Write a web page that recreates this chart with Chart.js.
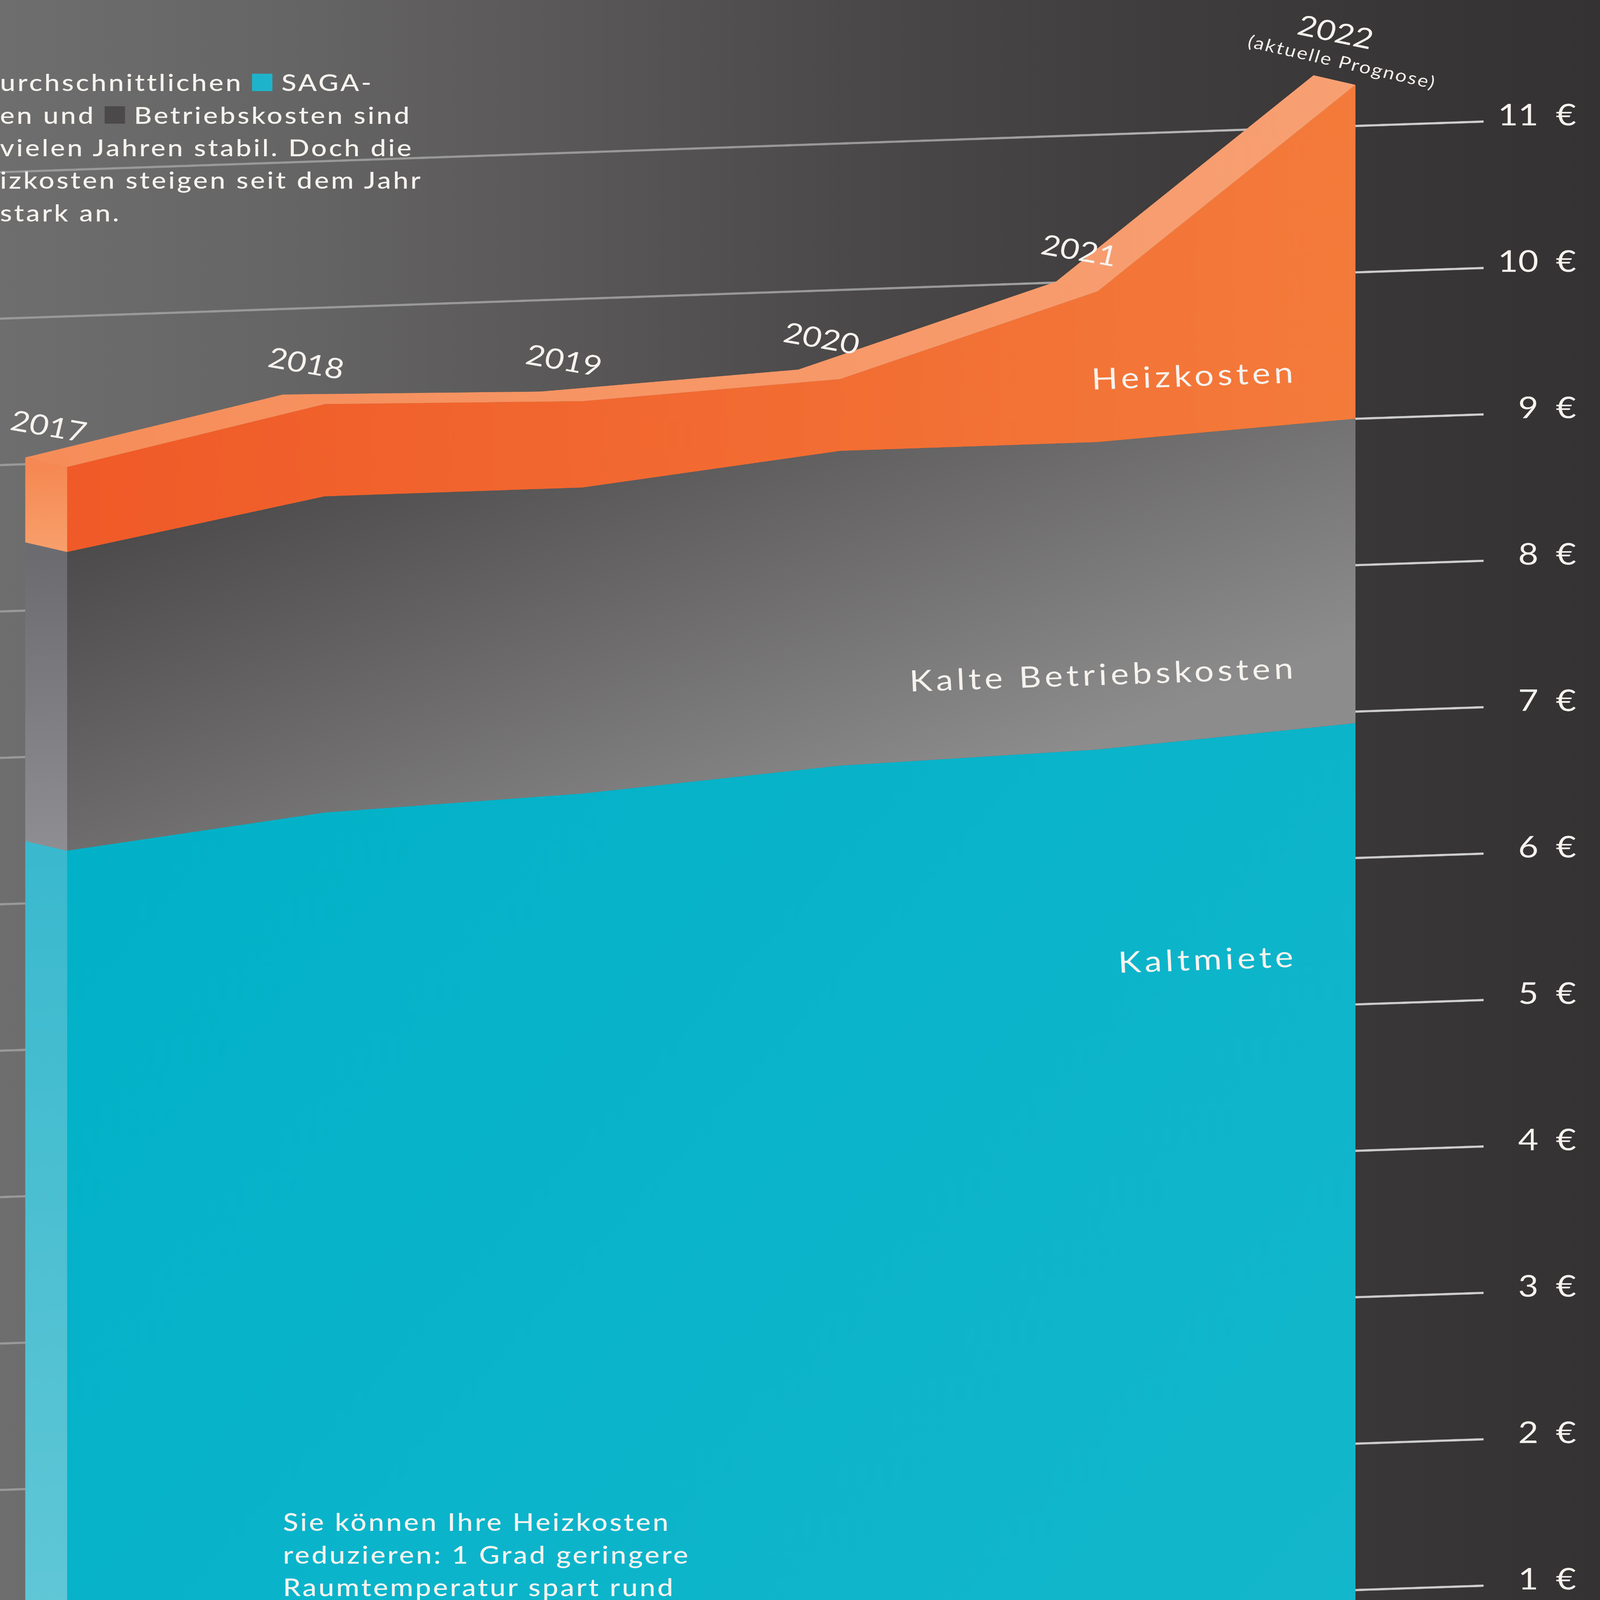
<!DOCTYPE html>
<html lang="de">
<head>
<meta charset="utf-8">
<title>SAGA: Kaltmiete, kalte Betriebskosten und Heizkosten 2017–2022</title>
<script src="https://cdn.jsdelivr.net/npm/chart.js@4.4.1/dist/chart.umd.min.js"></script>
<style>
  html, body { margin: 0; padding: 0; overflow: hidden; background: #343232; }
  #page {
    position: absolute; left: 0; top: 0;
    width: 5580px; height: 6535px; overflow: hidden;
    transform-origin: 0 0;
    background: linear-gradient(90deg, #6f6e6e 0px, #666565 1000px, #595757 2000px,
                #4a4848 3000px, #3f3d3d 4000px, #373535 5000px, #343232 5580px);
    font-family: Lato, "Open Sans", sans-serif;
    color: #f6f3ef;
  }
  #chart { position: absolute; left: 0; top: 0; }
  .text { position: absolute; white-space: nowrap; font-weight: 500; }
  .intro { left: 0; top: 268px; font-size: 96px; line-height: 133px; letter-spacing: 0.075em; }
  .tip { left: 987px; top: 6149px; font-size: 98px; line-height: 133px; letter-spacing: 0.07em; }
  .key { display: inline-block; width: 71px; height: 71px; vertical-align: baseline; }
  .key.teal { background: #1db4cb; }
  .key.grey { background: #4b494a; }
</style>
</head>
<body>
<div id="page">
<canvas id="chart" width="5580" height="6535"></canvas>

<div class="text intro">urchschnittlichen <span class="key teal"></span> SAGA-<br>en und <span class="key grey"></span> Betriebskosten sind<br>vielen Jahren stabil. Doch die<br>izkosten steigen seit dem Jahr<br>stark an.</div>

<div class="text tip">Sie können Ihre Heizkosten<br>reduzieren: 1 Grad geringere<br>Raumtemperatur spart rund</div>
</div>

<script>
// values in euro per square metre
const years = [2017, 2018, 2019, 2020, 2021, 2022];
const yearLabels = ['2017', '2018', '2019', '2020', '2021', '2022'];
const forecastNote = '(aktuelle Prognose)';
const kaltmiete = [6.35, 6.55, 6.62, 6.75, 6.80, 6.92];
const betriebskosten = [2.04, 2.16, 2.09, 2.15, 2.10, 2.08];
const heizkosten = [0.58, 0.63, 0.59, 0.49, 1.03, 2.28];
const seriesNames = ['Kaltmiete', 'Kalte Betriebskosten', 'Heizkosten'];
const euroTicks = [1, 2, 3, 4, 5, 6, 7, 8, 9, 10, 11];
const euroTickLabels = ['1\u2002€', '2\u2002€', '3\u2002€', '4\u2002€', '5\u2002€', '6\u2002€',
                        '7\u2002€', '8\u2002€', '9\u2002€', '10\u2002€', '11\u2002€'];

// where the series names sit, in data units (right end of the baseline)
const seriesLabelAnchors = [
  { x: 2021.76, y: 5.27 },
  { x: 2021.76, y: 7.24 },
  { x: 2021.76, y: 9.26 }
];

const PAGE_W = 5580;
const PAGE_H = 6535;

// scale ranges so the plot lines up with the page
const X_MIN = 2016.7396;
const X_MAX = 2022.4974;
const Y_MIN = 0.863;
const Y_MAX = 11.791;

// the grid recedes: everything is skewed around a pivot right of the axis
const K = 0.04;
const PIVOT_X = 5750;
const DEPTH = { x: -146, y: -45 };

const TEXT_COLOR = '#f6f3ef';
const SIDE_COLORS = [
  ['#3ab9ce', '#62c8d7'],
  ['#6c6c70', '#8f8f93'],
  ['#f68953', '#f8a06c']
];
const TOP_FACE_COLORS = ['#f68d59', '#f8a073'];

// the browser window may be smaller than the page; fit the page into it
function fitPage() {
  const sx = window.innerWidth / PAGE_W;
  const sy = window.innerHeight / PAGE_H;
  document.getElementById('page').style.transform = `scale(${sx}, ${sy})`;
}
fitPage();
window.addEventListener('resize', fitPage);

const cache = {};

function gridColor(chart) {
  if (!chart.chartArea) return 'rgba(225,225,225,0.6)';
  if (!cache.grid) {
    const g = chart.ctx.createLinearGradient(0, 0, chart.chartArea.right, 0);
    g.addColorStop(0, 'rgba(225,225,225,0.38)');
    g.addColorStop(0.65, 'rgba(225,225,225,0.55)');
    g.addColorStop(0.92, 'rgba(225,225,225,0.88)');
    g.addColorStop(1, 'rgba(225,225,225,0.9)');
    cache.grid = g;
  }
  return cache.grid;
}

function faceFill(chart, name) {
  const fallback = { teal: '#00b2c8', grey: '#666464', orange: '#f26a32' }[name];
  if (!chart.chartArea) return fallback;
  if (!cache[name]) {
    const c = chart.ctx;
    let g;
    if (name === 'teal') {
      g = c.createLinearGradient(0, 2800, 4727, 6535);
      g.addColorStop(0, '#00b1c8');
      g.addColorStop(1, '#14b7cc');
    } else if (name === 'grey') {
      g = c.createLinearGradient(248, 1925, 1100, 4033);
      g.addColorStop(0, '#4a4848');
      g.addColorStop(1, '#8d8c8c');
    } else {
      g = c.createLinearGradient(234, 0, 4727, 0);
      g.addColorStop(0, '#f05a28');
      g.addColorStop(1, '#f47b3b');
    }
    cache[name] = g;
  }
  return cache[name];
}

function toPage(x, y) {
  return { x: x, y: y + K * (PIVOT_X - x) };
}

function drawSolid(chart) {
  const c = chart.ctx;
  const metas = [0, 1, 2].map(i => chart.getDatasetMeta(i));
  const x0 = metas[0].data[0].x;
  const tops = metas.map(m => m.data[0].y);
  const bottoms = [chart.chartArea.bottom + 400, tops[0], tops[1]];

  // left side of the block
  SIDE_COLORS.forEach(([from, to], i) => {
    const g = c.createLinearGradient(0, tops[i], 0, Math.min(bottoms[i], chart.chartArea.bottom));
    g.addColorStop(0, from);
    g.addColorStop(1, to);
    c.fillStyle = g;
    c.beginPath();
    c.moveTo(x0, tops[i]);
    c.lineTo(x0 + DEPTH.x, tops[i] + DEPTH.y);
    c.lineTo(x0 + DEPTH.x, bottoms[i] + DEPTH.y);
    c.lineTo(x0, bottoms[i]);
    c.closePath();
    c.fill();
  });

  // top face along the Heizkosten line
  const pts = metas[2].data;
  const g = c.createLinearGradient(x0 + DEPTH.x, 0, pts[pts.length - 1].x, 0);
  g.addColorStop(0, TOP_FACE_COLORS[0]);
  g.addColorStop(1, TOP_FACE_COLORS[1]);
  c.fillStyle = g;
  c.beginPath();
  pts.forEach((p, i) => (i ? c.lineTo(p.x, p.y) : c.moveTo(p.x, p.y)));
  for (let i = pts.length - 1; i >= 0; i--) c.lineTo(pts[i].x + DEPTH.x, pts[i].y + DEPTH.y);
  c.closePath();
  c.fill();
}

function drawLabels(chart) {
  const c = chart.ctx;
  const pts = chart.getDatasetMeta(2).data;
  c.save();
  c.fillStyle = TEXT_COLOR;
  c.textAlign = 'center';
  c.textBaseline = 'middle';

  yearLabels.forEach((txt, i) => {
    const p = toPage(pts[i].x, pts[i].y);
    const last = i === yearLabels.length - 1;
    c.save();
    c.translate(p.x + (last ? -70 : -65), p.y + (last ? -212 : -163));
    c.rotate(last ? 0.24 : 0.2);
    c.font = '400 115px Lato';
    c.fillText(txt, 0, 0);
    c.restore();
    if (last) {
      c.save();
      c.translate(p.x - 47, p.y - 91);
      c.rotate(0.26);
      c.font = '400 70px Lato';
      c.letterSpacing = '5px';
      c.fillText(forecastNote, 0, 0);
      c.restore();
    }
  });

  const xs = chart.scales.x;
  const ys = chart.scales.y;
  c.textAlign = 'right';
  c.textBaseline = 'alphabetic';
  c.font = '400 120px Lato';
  c.letterSpacing = '13px';
  seriesLabelAnchors.forEach((a, i) => {
    const p = toPage(xs.getPixelForValue(a.x), ys.getPixelForValue(a.y));
    c.save();
    c.translate(p.x, p.y);
    c.rotate(-Math.atan(K));
    c.fillText(seriesNames[i], 13, 0);
    c.restore();
  });
  c.restore();
}

const perspective = {
  id: 'perspective',
  beforeDraw(chart) {
    chart.ctx.save();
    chart.ctx.transform(1, -K, 0, 1, 0, K * PIVOT_X);
  },
  afterDatasetsDraw(chart) {
    drawSolid(chart);
    chart.ctx.restore();
  },
  afterDraw(chart) {
    drawLabels(chart);
  }
};

const points = values => years.map((yr, i) => ({ x: yr, y: values[i] }));

new Chart(document.getElementById('chart'), {
  type: 'line',
  data: {
    datasets: [
      { label: seriesNames[0], data: points(kaltmiete), fill: 'start',
        backgroundColor: ctx => faceFill(ctx.chart, 'teal') },
      { label: seriesNames[1], data: points(betriebskosten), fill: '-1',
        backgroundColor: ctx => faceFill(ctx.chart, 'grey') },
      { label: seriesNames[2], data: points(heizkosten), fill: '-1',
        backgroundColor: ctx => faceFill(ctx.chart, 'orange') }
    ]
  },
  options: {
    responsive: false,
    animation: false,
    devicePixelRatio: 1,
    // the right padding puts the right edge of the euro labels where the picture has it
    layout: { padding: { left: 0, top: 0, bottom: 0, right: 83 } },
    elements: {
      point: { radius: 0 },
      line: { tension: 0, borderWidth: 0, borderColor: 'transparent' }
    },
    plugins: {
      legend: { display: false },
      tooltip: { enabled: false }
    },
    scales: {
      x: { type: 'linear', display: false, min: X_MIN, max: X_MAX },
      y: {
        position: 'right',
        stacked: true,
        min: Y_MIN,
        max: Y_MAX,
        grid: { color: ctx => gridColor(ctx.chart), lineWidth: 9, drawTicks: false },
        border: { display: false },
        ticks: {
          z: 1,
          padding: 50,
          crossAlign: 'far',
          color: TEXT_COLOR,
          font: { family: 'Lato', size: 122 },
          callback: (value, index) => euroTickLabels[index]
        },
        afterBuildTicks: scale => { scale.ticks = euroTicks.map(v => ({ value: v })); },
        afterFit: scale => {
          scale.width = 323;
          scale.paddingTop = 0;
          scale.paddingBottom = 0;
        }
      }
    }
  },
  plugins: [perspective]
});
</script>
</body>
</html>
